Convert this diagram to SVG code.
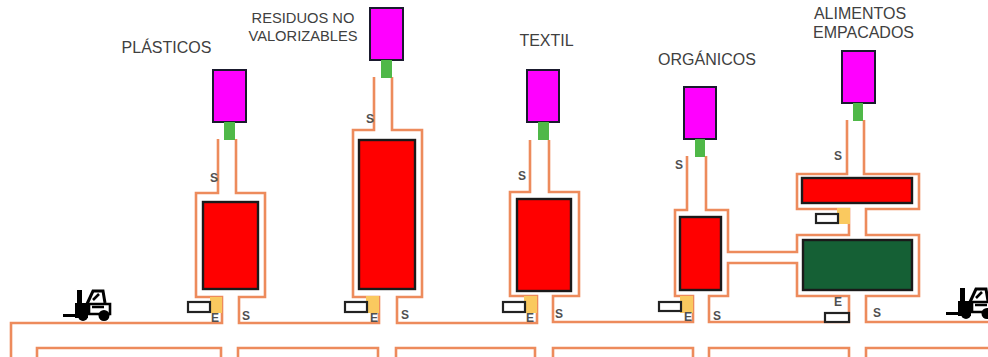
<svg xmlns="http://www.w3.org/2000/svg" width="988" height="357" viewBox="0 0 988 357">
<style>
.w{fill:none;stroke:#ED8B5C;stroke-width:2.6}
.m{fill:#FF00FF;stroke:#1a1a2e;stroke-width:2}
.r{fill:#FF0000;stroke:#1a1a1a;stroke-width:2.4}
.d{fill:#156035;stroke:#1a1a1a;stroke-width:2.4}
.g{fill:#4FB848}
.y{fill:#FAC95F}
.b{fill:#fff;stroke:#222;stroke-width:2.2}
text{font-family:"Liberation Sans",Arial,sans-serif;fill:#404040}
.l{text-anchor:middle}
.s{font-size:12px;font-weight:bold;fill:#505050;text-anchor:middle}
</style>
<defs>
<g id="fork">
<rect x="0" y="25" width="20" height="3" fill="#000"/>
<rect x="14" y="1" width="5" height="28" fill="#000"/>
<rect x="12" y="14" width="13" height="15" fill="#000"/>
<path d="M24 15 L30 2 H40 L42 14" fill="none" stroke="#000" stroke-width="3"/>
<path d="M26 15 H47 V25 H26Z" fill="#fff" stroke="#000" stroke-width="2.6"/>
<path d="M30 11 L36 5 M29 18 H41" stroke="#000" stroke-width="2.6" fill="none"/>
<circle cx="20" cy="27" r="5" fill="#000"/>
<circle cx="41" cy="26.500" r="5.500" fill="#000"/>
</g>
</defs>
<g id="connectors">
<path class="w" d="M218 139V193H196V297H222V323H11V357"/>
<path class="w" d="M236 139V193H265V297H239V323H379V297H353V130H374V77"/>
<path class="w" d="M392 77V130H422V297H397V323H537V296H510V192H530V140"/>
<path class="w" d="M549 140V192H579V296H553V322H693V296H675V210H687V156"/>
<path class="w" d="M706 156V210H728V252H797V235H849V209H797V174H847V120"/>
<path class="w" d="M864 120V174H919V209H866V235H919V296H866V322H988"/>
<path class="w" d="M728 263V296H709V322H849V296H797V263Z"/>
<path class="w" d="M37 357V348H221V357"/>
<path class="w" d="M238 357V348H378V357"/>
<path class="w" d="M396 357V348H535V357"/>
<path class="w" d="M553 357V348H693V357"/>
<path class="w" d="M709 357V348H849V357"/>
<path class="w" d="M866 357V348H988"/>
</g>
<g id="plasticos">
<text class="l" x="166.500" y="53" font-size="16">PLÁSTICOS</text>
<rect class="m" x="213" y="70" width="33" height="52"/>
<rect class="g" x="224" y="122" width="11" height="18"/>
<rect class="r" x="203" y="202" width="55" height="87"/>
<rect class="y" x="210" y="297" width="12" height="16"/>
<rect class="b" x="188" y="302" width="22" height="10"/>
<text class="s" x="215" y="322">E</text><text class="s" x="246" y="320">S</text><text class="s" x="214" y="182">S</text>
</g>
<g id="residuos">
<text class="l" x="303" y="23" font-size="14.700">RESIDUOS NO</text>
<text class="l" x="303" y="41" font-size="14.700">VALORIZABLES</text>
<rect class="m" x="370" y="8" width="33" height="52"/>
<rect class="g" x="381" y="60" width="11" height="18"/>
<rect class="r" x="359" y="140" width="56" height="149"/>
<rect class="y" x="366" y="296" width="13" height="17"/>
<rect class="b" x="345" y="302" width="22" height="10"/>
<text class="s" x="374" y="322">E</text><text class="s" x="405" y="319">S</text><text class="s" x="370" y="123">S</text>
</g>
<g id="textil">
<text class="l" x="546.500" y="46" font-size="16">TEXTIL</text>
<rect class="m" x="527" y="70" width="32" height="52"/>
<rect class="g" x="538" y="122" width="11" height="18"/>
<rect class="r" x="517" y="199" width="54" height="92"/>
<rect class="y" x="524" y="296" width="13" height="17"/>
<rect class="b" x="503" y="302" width="22" height="10"/>
<text class="s" x="530" y="322">E</text><text class="s" x="559" y="318">S</text><text class="s" x="522" y="180">S</text>
</g>
<g id="organicos">
<text class="l" x="707" y="65" font-size="16">ORGÁNICOS</text>
<rect class="m" x="684" y="87" width="32" height="52"/>
<rect class="g" x="695" y="139" width="10" height="18"/>
<rect class="r" x="680" y="217" width="41" height="73"/>
<rect class="y" x="680" y="296" width="13" height="17"/>
<rect class="b" x="659" y="302" width="22" height="9"/>
<text class="s" x="688" y="321">E</text><text class="s" x="717" y="320">S</text><text class="s" x="679" y="169">S</text>
</g>
<g id="alimentos">
<text class="l" x="860" y="19" font-size="16">ALIMENTOS</text>
<text class="l" x="863.500" y="38" font-size="16">EMPACADOS</text>
<rect class="m" x="842" y="51" width="33" height="52"/>
<rect class="g" x="853" y="103" width="10" height="18"/>
<rect class="r" x="802" y="178" width="110" height="25"/>
<rect class="d" x="803" y="240" width="109" height="50"/>
<rect class="y" x="837" y="208" width="13" height="16"/>
<rect class="b" x="816" y="214" width="22" height="9"/>
<rect class="b" x="825" y="313" width="24" height="9"/>
<text class="s" x="838" y="306">E</text><text class="s" x="877" y="317">S</text><text class="s" x="838" y="160">S</text>
</g>
<use id="montacargas-1" href="#fork" x="63" y="289"/>
<use id="montacargas-2" href="#fork" x="946" y="287"/>
</svg>
